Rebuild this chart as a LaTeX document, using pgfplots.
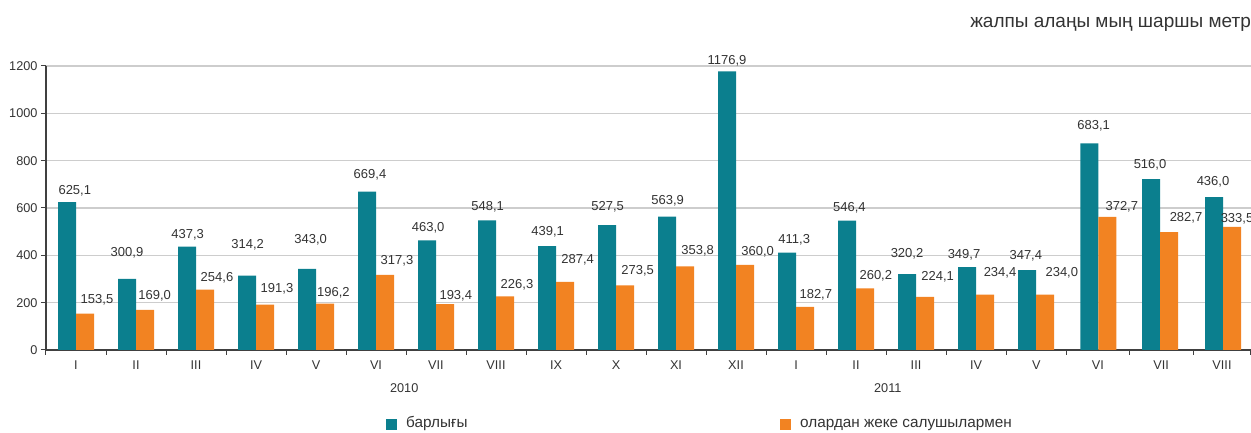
\documentclass[border=0pt]{standalone}
\usepackage{fontspec}
\setmainfont{Liberation Sans}
\usepackage{pgfplots}
\usepackage{pgfplotstable}
\pgfplotsset{compat=1.18}

\definecolor{barteal}{HTML}{0B7F8E}
\definecolor{barorange}{HTML}{F28322}
\definecolor{txtgray}{HTML}{333333}
\definecolor{axgray}{HTML}{404040}
\definecolor{gridgray}{HTML}{CDCDCD}

\newcommand\valfont{\fontsize{13pt}{15pt}\selectfont}
\newcommand\tickfont{\fontsize{12.7pt}{14pt}\selectfont}
\newcommand\legfont{\fontsize{15.3pt}{18pt}\selectfont}

% bars as drawn (2011 V-VIII bars differ from their printed labels)
\pgfplotstableread{
x y
0 625.1
1 300.9
2 437.3
3 314.2
4 343.0
5 669.4
6 463.0
7 548.1
8 439.1
9 527.5
10 563.9
11 1176.9
12 411.3
13 546.4
14 320.2
15 349.7
16 338
17.04 873
18.07 722
19.12 646
}\tealdata

\pgfplotstableread{
x y
0 153.5
1 169.0
2 254.6
3 191.3
4 196.2
5 317.3
6 193.4
7 226.3
8 287.4
9 273.5
10 353.8
11 360.0
12 182.7
13 260.2
14 224.1
15 234.4
16 234.0
17.04 562
18.07 498
19.12 520
}\orangedata

% printed labels: centre position and text
\pgfplotstableread{
x y lab
-0.02 670 625,1
0.85 406 300,9
1.86 482 437,3
2.86 439 314,2
3.91 461 343,0
4.90 735 669,4
5.87 514 463,0
6.86 600 548,1
7.86 497 439,1
8.86 600 527,5
9.86 625 563,9
10.85 1216 1176,9
11.97 461 411,3
12.89 596 546,4
13.85 403 320,2
14.80 400 349,7
15.83 393 347,4
16.96 941 683,1
17.90 777 516,0
18.95 706 436,0
}\teallab

\pgfplotstableread{
x y lab
0.35 209 153,5
1.31 225 169,0
2.35 300 254,6
3.35 255 191,3
4.29 237 196,2
5.35 372 317,3
6.33 223 193,4
7.35 270 226,3
8.36 376 287,4
9.36 330 273,5
10.36 414 353,8
11.36 410 360,0
12.33 228 182,7
13.33 311 260,2
14.36 303 224,1
15.40 324 234,4
16.43 324 234,0
17.43 599 372,7
18.50 556 282,7
19.35 552 333,5
}\orangelab

\begin{document}
\begin{tikzpicture}
\useasboundingbox (0pt,0pt) rectangle (1251pt,433pt);
\begin{axis}[
  at={(46pt,83pt)}, anchor=south west,
  scale only axis, width=1205pt, height=284pt,
  xmin=-0.5, xmax=19.583, ymin=0, ymax=1200,
  clip=false,
  axis x line*=bottom, axis y line*=left,
  axis line style={axgray, line width=1.1pt},
  tick style={axgray, line width=1pt},
  major tick length=5pt, tick align=outside,
  xtick={-0.5,0.5,1.5,2.5,3.5,4.5,5.5,6.5,7.5,8.5,9.5,10.5,11.5,12.5,13.5,14.5,15.5,16.51,17.55,18.62,19.58},
  x tick label as interval,
  xticklabels={I,II,III,IV,V,VI,VII,VIII,IX,X,XI,XII,I,II,III,IV,V,VI,VII,VIII},
  xticklabel style={yshift=-2pt},
  ytick={0,200,...,1200},
  ymajorgrids, grid style={gridgray, line width=1.5pt},
  tick label style={font=\tickfont, text=txtgray},
  /pgf/number format/assume math mode=true,
  /pgf/number format/set thousands separator={},
  legend columns=2,
  legend style={at={(axis description cs:0.2822,-0.2606)}, anchor=west,
    draw=none, fill=none, inner sep=0pt,
    nodes={inner sep=0pt, text height=0.75em, text depth=0pt, font=\legfont, text=txtgray},
    /tikz/every odd column/.append style={column sep=9pt}},
  legend image code/.code={\fill[#1] (0pt,-5.5pt) rectangle (11pt,5.5pt);},
]
\addplot[ybar, bar width=18pt, bar shift=-9pt, fill=barteal, draw=none] table[x=x,y=y]{\tealdata};
\addlegendentry{\makebox[374pt][l]{барлығы}}
\addplot[ybar, bar width=18pt, bar shift=9pt, fill=barorange, draw=none] table[x=x,y=y]{\orangedata};
\addlegendentry{олардан жеке салушылармен}

\addplot[draw=none, mark=none, forget plot, nodes near coords, point meta=explicit symbolic,
  nodes near coords align={anchor=center},
  every node near coord/.append style={font=\valfont, text=txtgray, inner sep=0pt, yshift=1pt}]
  table[x=x,y=y,meta=lab]{\teallab};
\addplot[draw=none, mark=none, forget plot, nodes near coords, point meta=explicit symbolic,
  nodes near coords align={anchor=center},
  every node near coord/.append style={font=\valfont, text=txtgray, inner sep=0pt, yshift=1pt}]
  table[x=x,y=y,meta=lab]{\orangelab};

\node[anchor=base, font=\tickfont, text=txtgray] at (axis cs:5.47,-181) {2010};
\node[anchor=base, font=\tickfont, text=txtgray] at (axis cs:13.53,-181) {2011};
\end{axis}
\node[anchor=base east, inner sep=0pt, font=\fontsize{19pt}{22pt}\selectfont, text=txtgray] at (1251pt,405.7pt) {жалпы алаңы мың шаршы метр};
\end{tikzpicture}
\end{document}
